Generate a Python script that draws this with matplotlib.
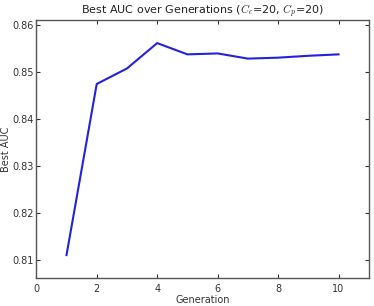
import matplotlib
matplotlib.use("Agg")
import matplotlib.pyplot as plt

generations = [1, 2, 3, 4, 5, 6, 7, 8, 9, 10]
best_auc = [0.8111, 0.8475, 0.8508, 0.8562, 0.8538, 0.8540, 0.8529, 0.8531, 0.8535, 0.8538]
x_ticks = [0, 2, 4, 6, 8, 10]
y_ticks = [0.81, 0.82, 0.83, 0.84, 0.85, 0.86]

plt.rcParams['font.family'] = ['DejaVu Sans']
plt.rcParams['mathtext.fontset'] = 'cm'

fig = plt.figure(figsize=(3.74, 3.06), dpi=100)
ax = fig.add_axes([0.097, 0.091, 0.889, 0.845])
ax.plot(generations, best_auc, color='#2222dd', linewidth=1.5)
ax.set_xlim(0, 11)
ax.set_ylim(0.8062, 0.8612)
ax.set_xticks(x_ticks)
ax.set_yticks(y_ticks)
ax.set_yticklabels([f"{v:.2f}" for v in y_ticks])
ax.tick_params(direction='in', labelsize=7, colors='#333333', length=3, top=True, right=True)
ax.tick_params(axis='y', pad=2)
ax.tick_params(axis='x', pad=4)
for s in ax.spines.values():
    s.set_color('#555555')
    s.set_linewidth(1.0)
ax.set_xlabel('Generation', fontsize=7, color='#333333', labelpad=1)
ax.set_ylabel('Best AUC', fontsize=7, color='#333333', labelpad=1)
ax.set_title(r'Best AUC over Generations ($C_c$=20, $C_p$=20)', fontsize=8, color='#222222', pad=4)
fig.savefig('out.png', dpi=100)
